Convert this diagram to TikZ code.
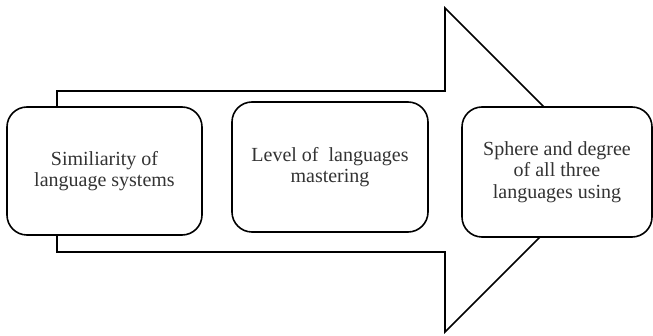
\documentclass[tikz,border=0pt]{standalone}
\usepackage{fontspec}
\setmainfont{Liberation Serif}
\begin{document}
\begin{tikzpicture}[x=1pt,y=-1pt,
  stagebox/.style={draw=black,line width=1.6pt,fill=white,rounded corners=20pt,
    align=center,font=\fontsize{20}{21.7}\selectfont,text=black!80,inner sep=0pt},
  bigarrow/.style={draw=black,line width=1.6pt,line join=miter}]
\useasboundingbox (0,0) rectangle (653,336);
\coordinate (s1) at (57,91);
\coordinate (s2) at (445,91);
\coordinate (h1) at (445,8);
\coordinate (tip) at (607,170);
\coordinate (h2) at (445,332);
\coordinate (s3) at (445,252);
\coordinate (s4) at (57,252);
\draw[bigarrow] (s1) -- (s2) -- (h1) -- (tip) -- (h2) -- (s3) -- (s4) -- cycle;
\node[stagebox,minimum width=195pt,minimum height=128pt] (b1) at (104.5,171) {Similiarity of\\language systems};
\node[stagebox,minimum width=196pt,minimum height=130pt] (b2) at (330,167) {Level of\ \ languages\\mastering};
\node[stagebox,minimum width=190pt,minimum height=130pt] (b3) at (557,172) {Sphere and degree\\of all three\\languages using};
\end{tikzpicture}
\end{document}
